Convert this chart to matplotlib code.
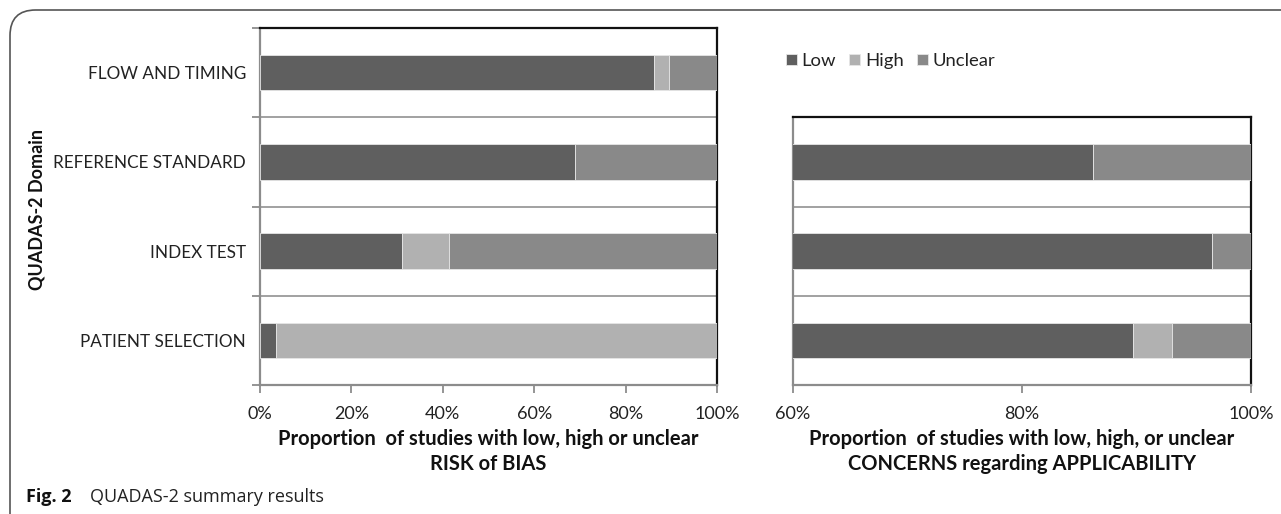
import matplotlib
matplotlib.use("Agg")
import matplotlib.pyplot as plt
from matplotlib.patches import FancyBboxPatch
import numpy as np

plt.rcParams['font.family'] = ['Lato', 'DejaVu Sans']

# ---- data (percent of studies) ----
domains_bias = ["PATIENT SELECTION", "INDEX TEST", "REFERENCE STANDARD", "FLOW AND TIMING"]
bias_low = [3.4, 31.0, 69.0, 86.2]
bias_high = [96.6, 10.3, 0.0, 3.4]
bias_unclear = [0.0, 58.7, 31.0, 10.4]

domains_appl = ["PATIENT SELECTION", "INDEX TEST", "REFERENCE STANDARD"]
appl_low = [89.7, 96.6, 86.2]
appl_high = [3.4, 0.0, 0.0]
appl_unclear = [6.9, 3.4, 13.8]

series_names = ["Low", "High", "Unclear"]
bias_ticks = [0, 20, 40, 60, 80, 100]
appl_ticks = [60, 80, 100]

colors = ["#5f5f5f", "#b1b1b1", "#898989"]
grey = "#8c8c8c"

W, H = 1281, 514
fig = plt.figure(figsize=(W / 100, H / 100), dpi=100)

def px(x0, y0, x1, y1):
    return [x0 / W, 1 - y1 / H, (x1 - x0) / W, (y1 - y0) / H]

ax1 = fig.add_axes(px(260, 28, 717, 385))
ax2 = fig.add_axes(px(793, 117.25, 1251, 385))

def draw(ax, cats, low, high, unclear, ticks, xmin):
    y = np.arange(len(cats))
    left = np.zeros(len(cats))
    for vals, c, name in zip([low, high, unclear], colors, series_names):
        vals = np.array(vals)
        ax.barh(y, vals, left=left, height=0.4, color=c, edgecolor="#e6e6e6",
                linewidth=0.6, label=name, zorder=3)
        left = left + vals
    ax.set_xlim(xmin, 100)
    ax.set_ylim(-0.5, len(cats) - 0.5)
    ax.set_xticks(ticks)
    ax.set_xticklabels([f"{t}%" for t in ticks], fontsize=13, color="#222222")
    ax.set_yticks(np.arange(len(cats) + 1) - 0.5)
    ax.set_yticklabels([])
    ax.grid(axis="y", color="#9a9a9a", linewidth=1.3, zorder=1)
    ax.grid(axis="x", visible=False)
    for s in ["top", "right"]:
        ax.spines[s].set_color("#111111")
        ax.spines[s].set_linewidth(1.6)
    for s in ["left", "bottom"]:
        ax.spines[s].set_color(grey)
        ax.spines[s].set_linewidth(1.6)
    ax.tick_params(axis="x", direction="out", length=6, width=1.3, color=grey, pad=9)
    ax.set_axisbelow(True)

draw(ax1, domains_bias, bias_low, bias_high, bias_unclear, bias_ticks, 0)
draw(ax2, domains_appl, appl_low, appl_high, appl_unclear, appl_ticks, 60)

ax1.tick_params(axis="y", which="major", direction="out", length=6, width=1.3, color=grey)
ax1.set_yticks(np.arange(len(domains_bias)), minor=True)
ax1.set_yticklabels(domains_bias, minor=True, fontsize=12.3, color="#222222")
ax1.tick_params(axis="y", which="minor", length=0, pad=10)
ax2.tick_params(axis="y", which="major", length=0)

xl_kw = dict(fontsize=14.5, fontweight="bold", color="#111111", labelpad=5, linespacing=1.3)
ax1.set_xlabel("Proportion  of studies with low, high or unclear\nRISK of BIAS", **xl_kw)
ax2.set_xlabel("Proportion  of studies with low, high, or unclear\nCONCERNS regarding APPLICABILITY", **xl_kw)

fig.text(37 / W, 1 - 210 / H, "QUADAS-2 Domain", rotation=90, fontsize=13,
         fontweight="bold", ha="center", va="center", color="#111111")

# legend
handles, labels = ax1.get_legend_handles_labels()
leg = fig.legend(handles, labels, loc="center left", bbox_to_anchor=(786 / W, 1 - 61 / H),
                 ncol=3, frameon=False, fontsize=13.3, handlelength=0.6, handleheight=0.6,
                 handletextpad=0.25, columnspacing=0.7, borderpad=0, borderaxespad=0)
for t in leg.get_texts():
    t.set_color("#222222")

# caption
fig.text(26 / W, 1 - 497 / H, "Fig. 2", fontsize=13, fontweight="bold",
         ha="left", va="center", color="#111111", family=["Open Sans", "DejaVu Sans"])
fig.text(90 / W, 1 - 497 / H, "QUADAS-2 summary results", fontsize=13,
         ha="left", va="center", color="#222222", family=["Open Sans", "DejaVu Sans"])

# outer rounded frame
frame = FancyBboxPatch((10 / W, -30 / H), 1400 / W, (504 + 30) / H,
                       boxstyle="round,pad=0,rounding_size=0.02",
                       transform=fig.transFigure, fill=False, edgecolor="#555555",
                       linewidth=1.2, mutation_aspect=W / H, clip_on=False)
fig.patches.append(frame)

fig.savefig("out.png", dpi=100)
